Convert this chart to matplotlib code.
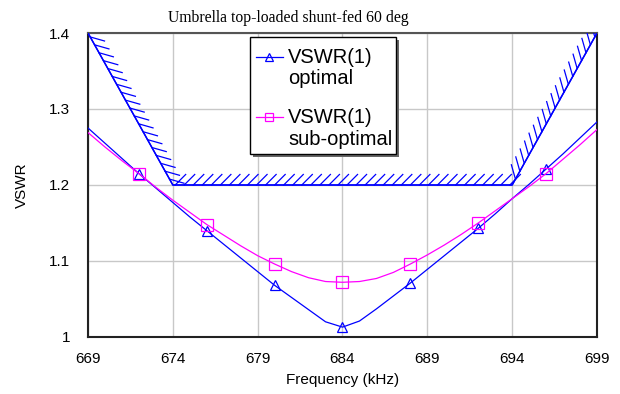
import matplotlib
matplotlib.use("Agg")
import numpy as np
import matplotlib.pyplot as plt
import matplotlib.patheffects as pe
from matplotlib.patches import Rectangle
from matplotlib.legend_handler import HandlerLine2D

freq = list(range(669, 700))
vswr_optimal = [1.275, 1.255, 1.235, 1.215, 1.196, 1.177, 1.158, 1.140, 1.122, 1.104,
                1.086, 1.068, 1.052, 1.036, 1.020, 1.013, 1.021, 1.037, 1.054, 1.071,
                1.089, 1.107, 1.125, 1.143, 1.162, 1.182, 1.201, 1.221, 1.241, 1.262, 1.283]
vswr_suboptimal = [1.269, 1.250, 1.232, 1.215, 1.197, 1.180, 1.164, 1.148, 1.134, 1.120,
                   1.107, 1.096, 1.086, 1.078, 1.073, 1.072, 1.073, 1.077, 1.085, 1.096,
                   1.108, 1.121, 1.135, 1.150, 1.166, 1.182, 1.198, 1.215, 1.234, 1.253, 1.273]
mask_freq = [669, 674, 694, 699]
mask_vswr = [1.4, 1.2, 1.2, 1.4]
xticks = [669, 674, 679, 684, 689, 694, 699]
yticks = [1.0, 1.1, 1.2, 1.3, 1.4]
ytick_labels = ["1", "1.1", "1.2", "1.3", "1.4"]


class UpHandler(HandlerLine2D):
    def create_artists(self, legend, orig_handle, xdescent, ydescent, width, height,
                       fontsize, trans):
        arts = super().create_artists(legend, orig_handle, xdescent, ydescent, width,
                                      height, fontsize, trans)
        for a in arts:
            a.set_ydata(np.asarray(a.get_ydata(), dtype=float) + 0.58 * fontsize)
        return arts


fig = plt.figure(figsize=(6.2, 3.94), dpi=100)
ax = fig.add_axes([88/620, 1-337/394, 509/620, 304/394])

blue = "#0000ff"
mag = "#ff00ff"
sans = "Liberation Sans"

ax.plot(mask_freq, mask_vswr, color=blue, lw=1.0, zorder=3,
        path_effects=[pe.withTickedStroke(angle=45, spacing=6.5, length=1.65, linewidth=0.9),
                      pe.Normal()])

ax.plot(freq, vswr_optimal, color=blue, lw=0.9, marker="^", markersize=7.5,
        markerfacecolor="none", markeredgecolor=blue, markeredgewidth=0.9,
        markevery=slice(3, None, 4), label="VSWR(1)\noptimal", zorder=4)
ax.plot(freq, vswr_suboptimal, color=mag, lw=0.9, marker="s", markersize=8.5,
        markerfacecolor="none", markeredgecolor=mag, markeredgewidth=0.9,
        markevery=slice(3, None, 4), label="VSWR(1)\nsub-optimal", zorder=4)

ax.set_xlim(669, 699)
ax.set_ylim(1.0, 1.4)
ax.set_xticks(xticks)
ax.set_xticklabels([str(x) for x in xticks], fontfamily=sans, fontsize=11)
ax.set_yticks(yticks)
ax.set_yticklabels(ytick_labels, fontfamily=sans, fontsize=11)
ax.tick_params(axis="y", length=0, pad=13)
ax.tick_params(axis="x", length=0, pad=11)
ax.grid(True, color="#c8c8c8", lw=1.0)
ax.set_axisbelow(True)
for s in ax.spines.values():
    s.set_color("#222222")
    s.set_linewidth(1.5)
ax.spines["top"].set_color("#555555")

ax.set_xlabel("Frequency (kHz)", fontfamily=sans, fontsize=11, labelpad=5)
ax.set_ylabel("VSWR", fontfamily=sans, fontsize=11, labelpad=14)
fig.text(288/620, 1-18/394, "Umbrella top-loaded shunt-fed 60 deg", ha="center", va="center",
         fontfamily="Liberation Serif", fontsize=11.3)

# legend box with shadow (axes fraction coordinates)
bx0, bx1, by0, by1 = 0.318, 0.605, 0.602, 0.987
dx, dy = 3/509, 3/304
ax.add_patch(Rectangle((bx0 + dx, by0 - dy), bx1 - bx0, by1 - by0, transform=ax.transAxes,
                       facecolor="#666666", edgecolor="none", zorder=9, clip_on=False))
ax.add_patch(Rectangle((bx0, by0), bx1 - bx0, by1 - by0, transform=ax.transAxes,
                       facecolor="white", edgecolor="black", lw=1.0, zorder=9.5, clip_on=False))

leg = ax.legend(loc="upper left", bbox_to_anchor=(bx0, by1 - 5/304), borderaxespad=0,
                frameon=False, prop={"family": sans, "size": 14.5},
                handlelength=1.35, handletextpad=0.25, labelspacing=1.0, borderpad=0.3,
                markerscale=0.7, handler_map={plt.Line2D: UpHandler()})
for t in leg.get_texts():
    t.set_linespacing(1.15)
leg.set_zorder(10)

fig.savefig("out.png", dpi=100)
